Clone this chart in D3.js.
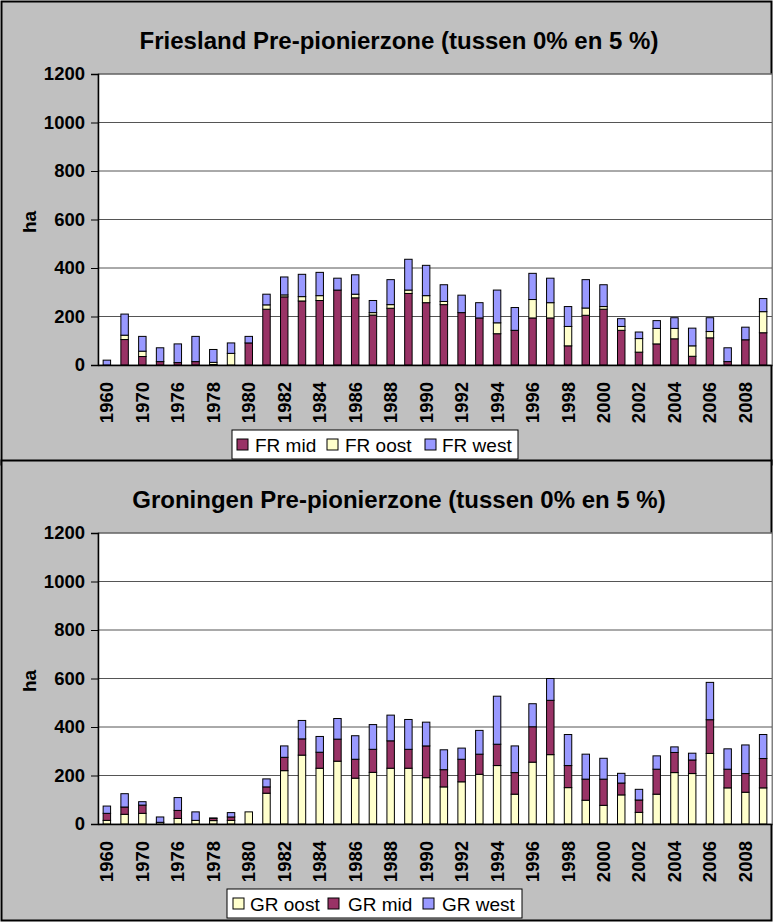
<!DOCTYPE html>
<html>
<head>
<meta charset="utf-8">
<script src="https://cdn.jsdelivr.net/npm/d3@7"></script>
<style>
  body { margin: 0; background: #fff; }
  svg text { font-family: "Liberation Sans", Arial, sans-serif; }
</style>
</head>
<body>
<div id="chart"></div>
<script>
// categories (two unlabeled years between 1960/1970 and 1970/1976)
var years = ["1960","1965","1970","1973","1976","1977","1978","1979","1980","1981",
  "1982","1983","1984","1985","1986","1987","1988","1989","1990","1991",
  "1992","1993","1994","1995","1996","1997","1998","1999","2000","2001",
  "2002","2003","2004","2005","2006","2007","2008","2009"];
var yTicks = [0, 200, 400, 600, 800, 1000, 1200];

// Friesland (ha)
var frMid  = [0,105,35,14,10,14,2,0,91,230,281,264,266,309,277,206,234,295,257,249,
  216,194,129,143,194,194,79,205,230,143,53,87,108,36,112,14,104,133];
var frOost = [0,18,22,0,0,0,9,48,0,18,8,18,20,0,15,10,15,14,29,13,
  0,0,45,0,76,63,80,30,11,16,56,64,43,43,26,0,0,87];
var frWest = [20,87,61,57,77,104,53,43,27,44,74,92,96,49,80,50,103,127,125,69,
  72,63,135,94,108,101,82,117,90,32,27,32,44,73,57,57,52,54];

// Groningen (ha)
var grOost = [15,40,44,7,23,15,14,15,50,127,220,284,230,259,189,213,230,230,191,153,
  174,205,241,123,255,286,150,98,77,120,48,123,212,208,291,149,131,149];
var grMid  = [29,30,34,0,33,0,9,14,0,26,55,67,66,91,78,95,113,78,131,71,
  93,83,88,89,146,224,91,87,108,49,51,103,83,56,139,77,77,121];
var grWest = [30,55,14,22,53,35,2,18,0,33,47,76,65,85,97,102,106,123,98,82,
  46,98,198,110,95,90,128,103,86,40,44,55,23,28,154,84,118,99];

var width = 774, height = 922;

var svg = d3.select("#chart")
  .append("svg")
    .attr("width", width)
    .attr("height", height);

function drawPanel(top, panelH, title, keys, names, colors, series, legend) {
  var g = svg.append("g").attr("transform", "translate(0," + top + ")");

  // panel background
  g.append("rect")
    .attr("x", 1.5).attr("y", 1.5)
    .attr("width", 770).attr("height", panelH)
    .attr("fill", "#c0c0c0")
    .attr("stroke", "#000")
    .attr("stroke-width", 2);

  g.append("text")
    .attr("x", 399).attr("y", 49)
    .attr("text-anchor", "middle")
    .attr("font-size", "24px")
    .attr("font-weight", "bold")
    .text(title);

  var plotL = 98, plotR = 772, plotT = 74, plotB = 365;

  var x = d3.scaleBand()
    .domain(years)
    .range([plotL, plotR])
    .paddingInner(0.58)
    .paddingOuter(0.29);

  var y = d3.scaleLinear()
    .domain([0, 1200])
    .range([plotB, plotT]);

  // plot area
  g.append("rect")
    .attr("x", plotL).attr("y", plotT)
    .attr("width", plotR - plotL).attr("height", plotB - plotT)
    .attr("fill", "#fff")
    .attr("stroke", "#808080");

  // grid lines
  g.append("g")
    .selectAll("line")
    .data(yTicks.slice(1))
    .enter()
    .append("line")
      .attr("x1", plotL).attr("x2", plotR)
      .attr("y1", function(d) { return y(d); })
      .attr("y2", function(d) { return y(d); })
      .attr("stroke", "#555")
      .attr("stroke-width", 1);

  // stack the data
  var rows = years.map(function(yr, i) {
    var r = {year: yr};
    keys.forEach(function(k, j) { r[k] = series[j][i]; });
    return r;
  });
  var stacked = d3.stack().keys(keys)(rows);

  g.append("g")
    .selectAll("g")
    .data(stacked)
    .enter()
    .append("g")
      .attr("fill", function(d, i) { return colors[i]; })
    .selectAll("rect")
    .data(function(d) { return d; })
    .enter()
    .append("rect")
      .attr("x", function(d) { return x(d.data.year); })
      .attr("y", function(d) { return y(d[1]); })
      .attr("width", x.bandwidth())
      .attr("height", function(d) { return y(d[0]) - y(d[1]); })
      .attr("stroke", "#000")
      .attr("stroke-width", 1)
      .style("display", function(d) { return d[1] - d[0] > 0 ? null : "none"; });

  // Y axis
  var yAxis = g.append("g")
    .attr("transform", "translate(" + plotL + ",0)")
    .call(d3.axisLeft(y).tickValues(yTicks).tickFormat(d3.format("d"))
      .tickSize(7).tickPadding(6));
  yAxis.select(".domain").attr("stroke", "#000").attr("stroke-width", 1.5);
  yAxis.selectAll("text")
    .attr("font-size", "18.5px")
    .attr("font-weight", "bold")
    .attr("fill", "#000");

  // X axis
  var xAxis = g.append("g")
    .attr("transform", "translate(0," + plotB + ")")
    .call(d3.axisBottom(x)
      .tickValues(years.filter(function(d, i) { return i % 2 === 0; }))
      .tickSize(0));
  xAxis.select(".domain").attr("stroke", "#000").attr("stroke-width", 1.5);
  xAxis.selectAll("text")
    .attr("font-size", "18.5px")
    .attr("font-weight", "bold")
    .attr("fill", "#000")
    .attr("text-anchor", "end")
    .attr("transform", "rotate(-90)")
    .attr("x", -17)
    .attr("y", 0)
    .attr("dy", "0.35em");

  // y title
  g.append("text")
    .attr("transform", "translate(36,222) rotate(-90)")
    .attr("text-anchor", "middle")
    .attr("font-size", "19px")
    .attr("font-weight", "bold")
    .text("ha");

  // legend
  var leg = g.append("g")
    .attr("transform", "translate(" + legend.x + "," + legend.y + ")");
  leg.append("rect")
    .attr("width", legend.w).attr("height", 29)
    .attr("fill", "#fff")
    .attr("stroke", "#000");
  names.forEach(function(n, i) {
    leg.append("rect")
      .attr("x", legend.sw[i]).attr("y", 9)
      .attr("width", 11).attr("height", 11)
      .attr("fill", colors[i])
      .attr("stroke", "#000");
    leg.append("text")
      .attr("x", legend.tx[i]).attr("y", 21.5)
      .attr("font-size", "19px")
      .text(n);
  });
}

var cMid = "#993366", cOost = "#ffffcc", cWest = "#9999ff";

drawPanel(0, 463, "Friesland Pre-pionierzone (tussen 0% en 5 %)",
  ["mid", "oost", "west"], ["FR mid", "FR oost", "FR west"],
  [cMid, cOost, cWest], [frMid, frOost, frWest],
  {x: 232, y: 430, w: 286, sw: [5, 95, 193], tx: [23, 113, 210]});

drawPanel(459, 460, "Groningen Pre-pionierzone (tussen 0% en 5 %)",
  ["oost", "mid", "west"], ["GR oost", "GR mid", "GR west"],
  [cOost, cMid, cWest], [grOost, grMid, grWest],
  {x: 227, y: 430, w: 295, sw: [6, 101, 196], tx: [23, 121, 215]});
</script>
</body>
</html>
